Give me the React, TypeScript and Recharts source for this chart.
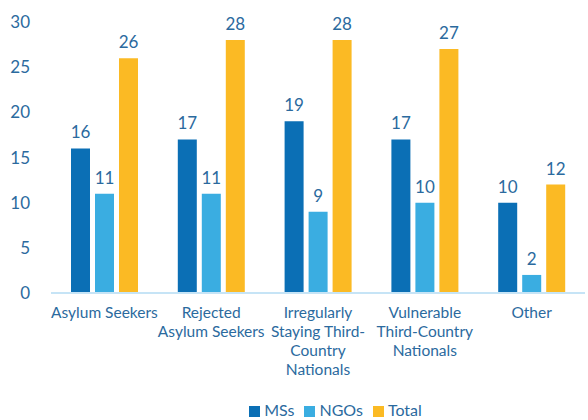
import { BarChart, Bar, XAxis, YAxis, Legend, LabelList } from 'recharts';

const categories = [
  ['Asylum Seekers'],
  ['Rejected', 'Asylum Seekers'],
  ['Irregularly', 'Staying Third-', 'Country', 'Nationals'],
  ['Vulnerable', 'Third-Country', 'Nationals'],
  ['Other'],
];
const msValues = [16, 17, 19, 17, 10];
const ngoValues = [11, 11, 9, 10, 2];
const totalValues = [26, 28, 28, 27, 12];
const yTicks = [0, 5, 10, 15, 20, 25, 30];

const TEXT = '#2b6a9e';
const FONT = 'Lato, "Open Sans", sans-serif';

const data = categories.map((lines, i) => ({
  name: lines.join(' '),
  MSs: msValues[i],
  NGOs: ngoValues[i],
  Total: totalValues[i],
}));

function CategoryTick(props: any) {
  const { x, y, payload } = props;
  const lines = categories[payload.index] ?? [payload.value];
  return (
    <text x={x} y={y} textAnchor="middle" fill={TEXT} fontSize={15.5} fontFamily={FONT}>
      {lines.map((l: string, i: number) => (
        <tspan key={i} x={x} dy={i === 0 ? 17 : 19}>
          {l}
        </tspan>
      ))}
    </text>
  );
}

export default function App() {
  return (
    <div style={{ position: 'absolute', left: 0, top: 0, width: 588, height: 420, background: '#fff' }}>
      <BarChart
        width={588}
        height={420}
        data={data}
        margin={{ top: 22, right: 3, left: 0, bottom: 3 }}
        barSize={19}
        barGap={5}
      >
        <YAxis
          domain={[0, 30]}
          ticks={yTicks}
          width={51}
          axisLine={false}
          tickLine={false}
          tick={{ fill: TEXT, fontSize: 17, fontFamily: FONT, dx: -13 }}
        />
        <XAxis
          dataKey="name"
          height={100}
          interval={0}
          tickLine={false}
          axisLine={{ stroke: '#c6e4f6', strokeWidth: 2 }}
          tick={<CategoryTick />}
        />
        <Legend
          height={24}
          iconType="square"
          iconSize={11}
          wrapperStyle={{ fontFamily: FONT, fontSize: 16, paddingLeft: 48, bottom: -4 }}
          formatter={(v: string) => <span style={{ color: TEXT }}>{v}</span>}
        />
        <Bar dataKey="MSs" fill="#0b6fb5" isAnimationActive={false}>
          <LabelList dataKey="MSs" position="top" offset={10} fill={TEXT} fontSize={17} fontFamily={FONT} />
        </Bar>
        <Bar dataKey="NGOs" fill="#3aade1" isAnimationActive={false}>
          <LabelList dataKey="NGOs" position="top" offset={10} fill={TEXT} fontSize={17} fontFamily={FONT} />
        </Bar>
        <Bar dataKey="Total" fill="#fbba24" isAnimationActive={false}>
          <LabelList dataKey="Total" position="top" offset={10} fill={TEXT} fontSize={17} fontFamily={FONT} />
        </Bar>
      </BarChart>
    </div>
  );
}
